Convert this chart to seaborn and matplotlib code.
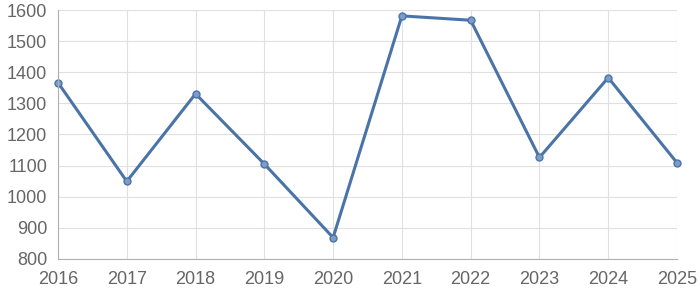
import matplotlib
matplotlib.use("Agg")
import matplotlib.pyplot as plt
import seaborn as sns
import pandas as pd

years = [2016, 2017, 2018, 2019, 2020, 2021, 2022, 2023, 2024, 2025]
values = [1367, 1049, 1331, 1105, 868, 1582, 1568, 1126, 1383, 1109]
yticks = [800, 900, 1000, 1100, 1200, 1300, 1400, 1500, 1600]

sns.set_theme(style="white")
plt.rcParams['font.family'] = ['Liberation Sans', 'DejaVu Sans']

df = pd.DataFrame({"year": years, "value": values})

fig = plt.figure(figsize=(7, 3), dpi=100)
ax = fig.add_axes([58/700, 1-258.7/300, (677-58)/700, (258.7-10.3)/300])

line_color = "#4a74a8"
sns.lineplot(data=df, x="year", y="value", ax=ax, color=line_color, linewidth=2.2,
             marker="o", markersize=5, markerfacecolor="#7f9cc4",
             markeredgecolor=line_color, markeredgewidth=1.0, clip_on=False)

ax.set_xlim(years[0], years[-1])
ax.set_ylim(yticks[0], yticks[-1])
ax.set_xticks(years)
ax.set_yticks(yticks)
ax.set_xlabel("")
ax.set_ylabel("")
ax.grid(True, color="#e0e0e0", linewidth=0.8)
ax.set_axisbelow(True)
for s in ["top", "right"]:
    ax.spines[s].set_visible(False)
for s in ["left", "bottom"]:
    ax.spines[s].set_color("#b0b0b0")
    ax.spines[s].set_linewidth(0.8)
ax.tick_params(axis="both", colors="#dcdcdc", length=7.2, width=0.8, labelsize=13,
               labelcolor="#666666")
ax.tick_params(axis="y", pad=0.5)
ax.tick_params(axis="x", pad=2)

fig.savefig("out.png", dpi=100)
